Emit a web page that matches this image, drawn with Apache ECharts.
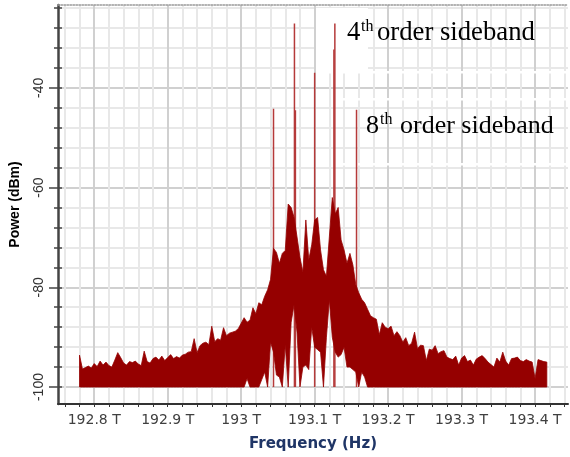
<!DOCTYPE html>
<html>
<head>
<meta charset="utf-8">
<script src="https://cdn.jsdelivr.net/npm/echarts@6/dist/echarts.min.js"></script>
<style>
  html, body { margin: 0; padding: 0; background: #fff; }
  #chart { width: 570px; height: 457px; }
</style>
</head>
<body>
<div id="chart"></div>
<script>
// spectrum samples (THz grid), upper and lower envelope of the trace in dBm
const freqStart = 192.780;
const freqStep = 0.004;
const peakPower = [
  -93.6, -96.4, -96.1, -95.8, -96.2, -95.3, -95.9, -94.8, -95.6, -95.0,
  -95.7, -96.0, -94.6, -93.1, -94.1, -95.2, -95.6, -94.9, -95.1, -94.8,
  -95.4, -95.7, -92.8, -94.9, -95.2, -94.3, -94.0, -94.6, -93.8, -94.7,
  -94.1, -93.5, -94.3, -93.9, -94.2, -93.6, -93.4, -93.0, -92.9, -90.3,
  -93.1, -91.7, -91.2, -91.0, -91.5, -87.8, -90.9, -90.3, -90.6, -88.1,
  -89.7, -89.2, -89.0, -88.8, -88.3, -87.2, -86.1, -87.0, -86.6, -84.1,
  -85.3, -83.1, -83.5, -81.8, -80.5, -78.4, -72.2, -73.0, -75.2, -73.2,
  -72.6, -63.3, -64.0, -66.0, -69.9, -74.0, -77.0, -66.5, -74.5, -71.5,
  -66.5, -66.0, -72.5, -76.5, -77.8, -69.9, -62.0, -65.3, -64.0, -70.5,
  -72.5, -75.2, -73.2, -75.5, -79.5, -81.1, -82.4, -83.1, -84.4, -85.7,
  -86.1, -86.4, -89.5, -87.1, -88.0, -88.3, -87.8, -89.7, -88.9, -89.7,
  -91.0, -90.1, -91.7, -91.2, -89.0, -92.3, -91.6, -91.7, -94.7, -92.4,
  -92.6, -91.7, -93.3, -92.9, -92.7, -94.0, -94.3, -94.5, -93.8, -95.6,
  -94.2, -93.7, -94.9, -94.6, -95.6, -94.4, -94.0, -93.7, -94.3, -95.0,
  -95.5, -96.0, -94.2, -95.0, -93.0, -94.8, -95.6, -94.3, -94.2, -94.0,
  -94.7, -94.9, -94.5, -94.8, -95.0, -98.3, -94.5, -94.7, -94.9, -95.0
];
const valleyPower = [
  -100, -100, -100, -100, -100, -100, -100, -100, -100, -100,
  -100, -100, -100, -100, -100, -100, -100, -100, -100, -100,
  -100, -100, -100, -100, -100, -100, -100, -100, -100, -100,
  -100, -100, -100, -100, -100, -100, -100, -100, -100, -100,
  -100, -100, -100, -100, -100, -100, -100, -100, -100, -100,
  -100, -100, -100, -100, -100, -100, -100, -98.3, -100, -100,
  -100, -100, -98.5, -97, -100, -91, -93, -97.6, -98, -100,
  -91.5, -100, -87, -83.5, -89, -100, -96, -95.6, -96.5, -88,
  -92, -92.5, -93, -100, -90, -82.5, -90, -93, -94, -93.5,
  -92, -96, -96, -96.5, -97, -100, -97, -98, -100, -100,
  -100, -100, -100, -100, -100, -100, -100, -100, -100, -100,
  -100, -100, -100, -100, -100, -100, -100, -100, -100, -100,
  -100, -100, -100, -100, -100, -100, -100, -100, -100, -100,
  -100, -100, -100, -100, -100, -100, -100, -100, -100, -100,
  -100, -100, -100, -100, -100, -100, -100, -100, -100, -100,
  -100, -100, -100, -100, -100, -100, -100, -100, -100, -100
];
// carrier and sideband lines
const toneFreq = [193.044, 193.0725, 193.0738, 193.1, 193.1262, 193.1275, 193.157];
const tonePower = [-44.2, -27.1, -44.5, -37.0, -32.3, -27.1, -44.4];

const xTickLabels = [192.8, 192.9, 193, 193.1, 193.2, 193.3, 193.4];
const yTickLabels = [-100, -80, -60, -40];

const X_MIN = 192.7507, X_MAX = 193.4448;
const Y_MIN = -103.4, Y_MAX = -23.4;

let xMinor = [];
for (let k = 0; k <= 34; k++) xMinor.push(+(192.76 + k * 0.02).toFixed(2));
let yMinor = [];
for (let v = -100; v <= -24; v += 4) yMinor.push(v);

// [freq, lower, upper] per sample
let bandData = peakPower.map(function (p, i) {
  return [freqStart + i * freqStep, valleyPower[i], p];
});

let chart = echarts.init(document.getElementById('chart'));

const LIGHT = '#e8e8e8', DARK = '#d0d0d0', RED = '#950000';

let series = [{
  type: 'custom',
  data: bandData,
  encode: { x: 0, y: [1, 2] },
  silent: true,
  z: 3,
  renderItem: function (params, api) {
    if (params.dataIndex !== 0) return;
    let pts = [];
    for (let i = 0; i < bandData.length; i++) {
      pts.push(api.coord([bandData[i][0], bandData[i][2]]));
    }
    for (let i = bandData.length - 1; i >= 0; i--) {
      pts.push(api.coord([bandData[i][0], bandData[i][1]]));
    }
    return {
      type: 'polygon',
      shape: { points: pts },
      style: { fill: RED, stroke: RED, lineWidth: 0.8 }
    };
  }
}];
toneFreq.forEach(function (f, k) {
  series.push({
    type: 'line',
    data: [[f, -100], [f, tonePower[k]]],
    symbol: 'none',
    lineStyle: { color: '#b53a3a', width: 1.5 },
    silent: true,
    z: 2
  });
});

function txt(x, y, s, size) {
  return {
    type: 'text', x: x, y: y, z: 10,
    style: {
      text: s, fill: '#000', align: 'left', verticalAlign: 'middle',
      font: size + 'px "Liberation Serif", "Times New Roman", serif'
    }
  };
}
function blank(x, y, w, h) {
  return { type: 'rect', z: 1, silent: true, shape: { x: x, y: y, width: w, height: h }, style: { fill: '#fff' } };
}

let option = {
  animation: false,
  grid: { left: 57, right: 2, top: 5, bottom: 48 },
  xAxis: [{
    type: 'value', min: X_MIN, max: X_MAX,
    name: 'Frequency (Hz)', nameLocation: 'middle', nameGap: 33,
    nameTextStyle: { fontFamily: 'DejaVu Sans', fontWeight: 'bold', fontSize: 15, color: '#1f3566' },
    axisLine: { lineStyle: { color: '#333', width: 2 } },
    axisTick: { customValues: xMinor, length: 3, lineStyle: { color: '#333' } },
    axisLabel: {
      customValues: xTickLabels, margin: 9,
      formatter: function (v) { return v + ' T'; },
      fontFamily: 'DejaVu Sans', fontSize: 14, color: '#404040'
    },
    splitLine: { show: true, lineStyle: { color: [LIGHT, LIGHT, DARK, LIGHT, LIGHT], width: 2 } }
  }, {
    type: 'value', position: 'top', min: X_MIN, max: X_MAX,
    axisLine: { lineStyle: { color: '#999', type: 'dotted', width: 1.5 } },
    axisTick: { show: false }, axisLabel: { show: false }, splitLine: { show: false }
  }],
  yAxis: [{
    type: 'value', min: Y_MIN, max: Y_MAX,
    name: 'Power (dBm)', nameLocation: 'middle', nameGap: 36, nameRotate: 90,
    nameTextStyle: { fontFamily: 'Liberation Sans', fontWeight: 'bold', fontSize: 14, color: '#000' },
    axisLine: { show: true, lineStyle: { color: '#444', width: 2.5 } },
    axisTick: { customValues: yMinor, length: 4, lineStyle: { color: '#444', width: 1.5 } },
    axisLabel: {
      customValues: yTickLabels, rotate: 90, margin: 12,
      fontFamily: 'Liberation Sans', fontSize: 14, color: '#333'
    },
    splitLine: { show: true, lineStyle: { color: [DARK, LIGHT, LIGHT, LIGHT, LIGHT], width: 2 } }
  }, {
    type: 'value', position: 'left', min: Y_MIN, max: Y_MAX,
    axisLine: { show: false },
    axisTick: { customValues: yMinor, inside: true, length: 4, lineStyle: { color: '#444', width: 1.5 } },
    axisLabel: { show: false }, splitLine: { show: false }
  }, {
    type: 'value', position: 'left', min: Y_MIN, max: Y_MAX,
    axisLine: { show: false },
    axisTick: { customValues: yTickLabels, length: 9, lineStyle: { color: '#444', width: 1.5 } },
    axisLabel: { show: false }, splitLine: { show: false }
  }],
  series: series,
  graphic: [
    // white patches left over around the pasted labels
    blank(316, 8, 52, 63), blank(316, 71, 254, 2.5), blank(343, 98, 227, 2.5), blank(343, 163, 227, 2.5),
    txt(347, 32.5, '4', 26.7), txt(361, 26.3, 'th', 16), txt(377, 32.5, 'order sideband', 26.7),
    txt(366, 125.8, '8', 26), txt(380, 119.6, 'th', 16), txt(400, 125.8, 'order sideband', 26)
  ]
};
chart.setOption(option);
</script>
</body>
</html>
